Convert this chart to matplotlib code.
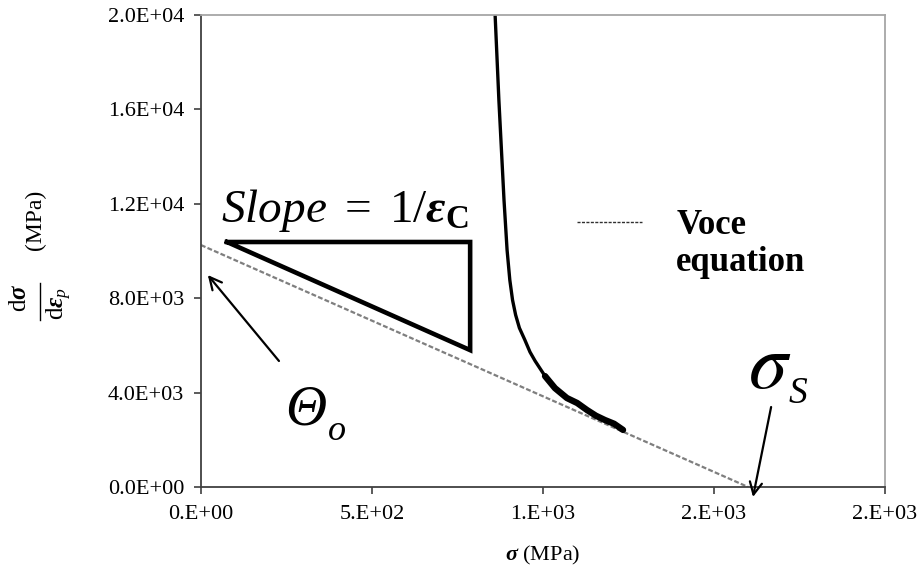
import numpy as np
import matplotlib.pyplot as plt
from matplotlib.lines import Line2D
from matplotlib.ticker import FuncFormatter

plt.rcParams['font.family'] = ['Liberation Serif', 'DejaVu Serif']
plt.rcParams['mathtext.fontset'] = 'custom'
plt.rcParams['mathtext.rm'] = 'Liberation Serif'
plt.rcParams['mathtext.it'] = 'Liberation Serif:italic'
plt.rcParams['mathtext.bf'] = 'Liberation Serif:bold'
plt.rcParams['mathtext.bfit'] = 'Liberation Serif:bold:italic'

curve_sigma = [860, 871, 886, 895, 903, 911, 920, 931, 947, 962, 977, 1006, 1035,
               1070, 1100, 1129, 1155, 1181, 1208, 1234]
curve_theta = [20000, 16400, 12160, 10040, 8770, 7920, 7290, 6740, 6230, 5720,
               5340, 4700, 4190, 3770, 3560, 3260, 3020, 2840, 2680, 2420]

# Voce fit: theta = theta0 * (1 - sigma / sigma_s)
theta0 = 10250
sigma_s = 1600
voce_sigma = [0, sigma_s]
voce_theta = [theta0, 0]

# slope triangle
tri_x = [76, 787, 787, 76]
tri_y = [10380, 10380, 5800, 10380]

xticks = [0, 500, 1000, 1500, 2000]
yticks = [0, 4000, 8000, 12000, 16000, 20000]

fig = plt.figure(figsize=(9.19, 5.73), dpi=100)
ax = fig.add_axes([0.2187, 0.150, 0.7443, 0.824])

voce, = ax.plot(voce_sigma, voce_theta, color='#7f7f7f', lw=1.6, ls=(0, (2.2, 1.0)))
ax.plot(curve_sigma, curve_theta, color='black', lw=2.4, solid_capstyle='round')
tail = np.array(curve_sigma) >= 1000
ax.plot(np.array(curve_sigma)[tail], np.array(curve_theta)[tail], color='black',
        lw=4.6, solid_capstyle='round')
ax.plot(tri_x, tri_y, color='black', lw=3.3, solid_joinstyle='miter')

ax.set_xlim(0, 2000)
ax.set_ylim(0, 20000)
ax.set_xticks(xticks)
ax.set_yticks(yticks)
ax.xaxis.set_major_formatter(FuncFormatter(lambda v, p: '{:#.0E}'.format(v)))
ax.yaxis.set_major_formatter(FuncFormatter(lambda v, p: '{:.1E}'.format(v)))
ax.tick_params(axis='both', direction='out', length=5, width=1.2,
               color='#404040', labelsize=16)
ax.tick_params(axis='x', pad=8)
ax.tick_params(axis='y', pad=7)

for s in ['left', 'bottom']:
    ax.spines[s].set_color('#404040')
    ax.spines[s].set_linewidth(1.3)
for s in ['top', 'right']:
    ax.spines[s].set_color('#a6a6a6')
    ax.spines[s].set_linewidth(1.3)

ax.set_xlabel(r'$\mathbfit{\sigma}$ (MPa)', fontsize=16, labelpad=14)

# y label: (MPa) plus a hand-built rotated fraction d(sigma)/d(eps_p)
ax.set_ylabel('(MPa)', fontsize=17)
ax.yaxis.set_label_coords(-0.226, 0.566)
ax.text(-0.2646, 0.400, r'$\mathrm{d}\mathbfit{\sigma}$', transform=ax.transAxes,
        rotation='vertical', fontsize=18, ha='center', va='center')
ax.text(-0.2076, 0.390, r'$\mathrm{d}\mathbfit{\varepsilon}_{\mathit{p}}$',
        transform=ax.transAxes, rotation='vertical', fontsize=18,
        ha='center', va='center')
ax.plot([-0.2354, -0.2354], [0.3538, 0.4322], transform=ax.transAxes,
        color='black', lw=1.0, clip_on=False)

ax.text(58, 11230, r'$\mathit{Slope}\ =\ 1/\mathbfit{\varepsilon}_{\mathbf{C}}$',
        fontsize=34, va='baseline', ha='left')
ax.text(246, 2630, 'Θ', fontsize=41, fontstyle='italic', va='baseline', ha='left')
ax.text(371, 1990, 'o', fontsize=26, fontstyle='italic', va='baseline', ha='left')
ax.text(1599, 4200, r'$\sigma$', fontsize=56, va='baseline', ha='left',
        math_fontfamily='stix')
ax.text(1719, 3560, 'S', fontsize=27, fontstyle='italic', va='baseline', ha='left')

ax.annotate('', xy=(20, 8980), xytext=(228, 5340),
            arrowprops=dict(arrowstyle='->', lw=1.6, color='black',
                            mutation_scale=22, shrinkA=0, shrinkB=0),
            annotation_clip=False)
ax.annotate('', xy=(1614, -420), xytext=(1667, 3390),
            arrowprops=dict(arrowstyle='->', lw=1.6, color='black',
                            mutation_scale=22, shrinkA=0, shrinkB=0),
            annotation_clip=False)

blank = Line2D([], [], linestyle='none')
leg = ax.legend(handles=[voce, blank], labels=['Voce', 'equation'],
                loc='upper left', bbox_to_anchor=(0.53, 0.619), frameon=False,
                handlelength=1.85, handletextpad=1.0, borderaxespad=0,
                labelspacing=0.12, prop={'weight': 'bold', 'size': 25})
for h in leg.get_lines():
    h.set_linewidth(1.0)
    h.set_color('#303030')

fig.savefig('out.png', dpi=100)
